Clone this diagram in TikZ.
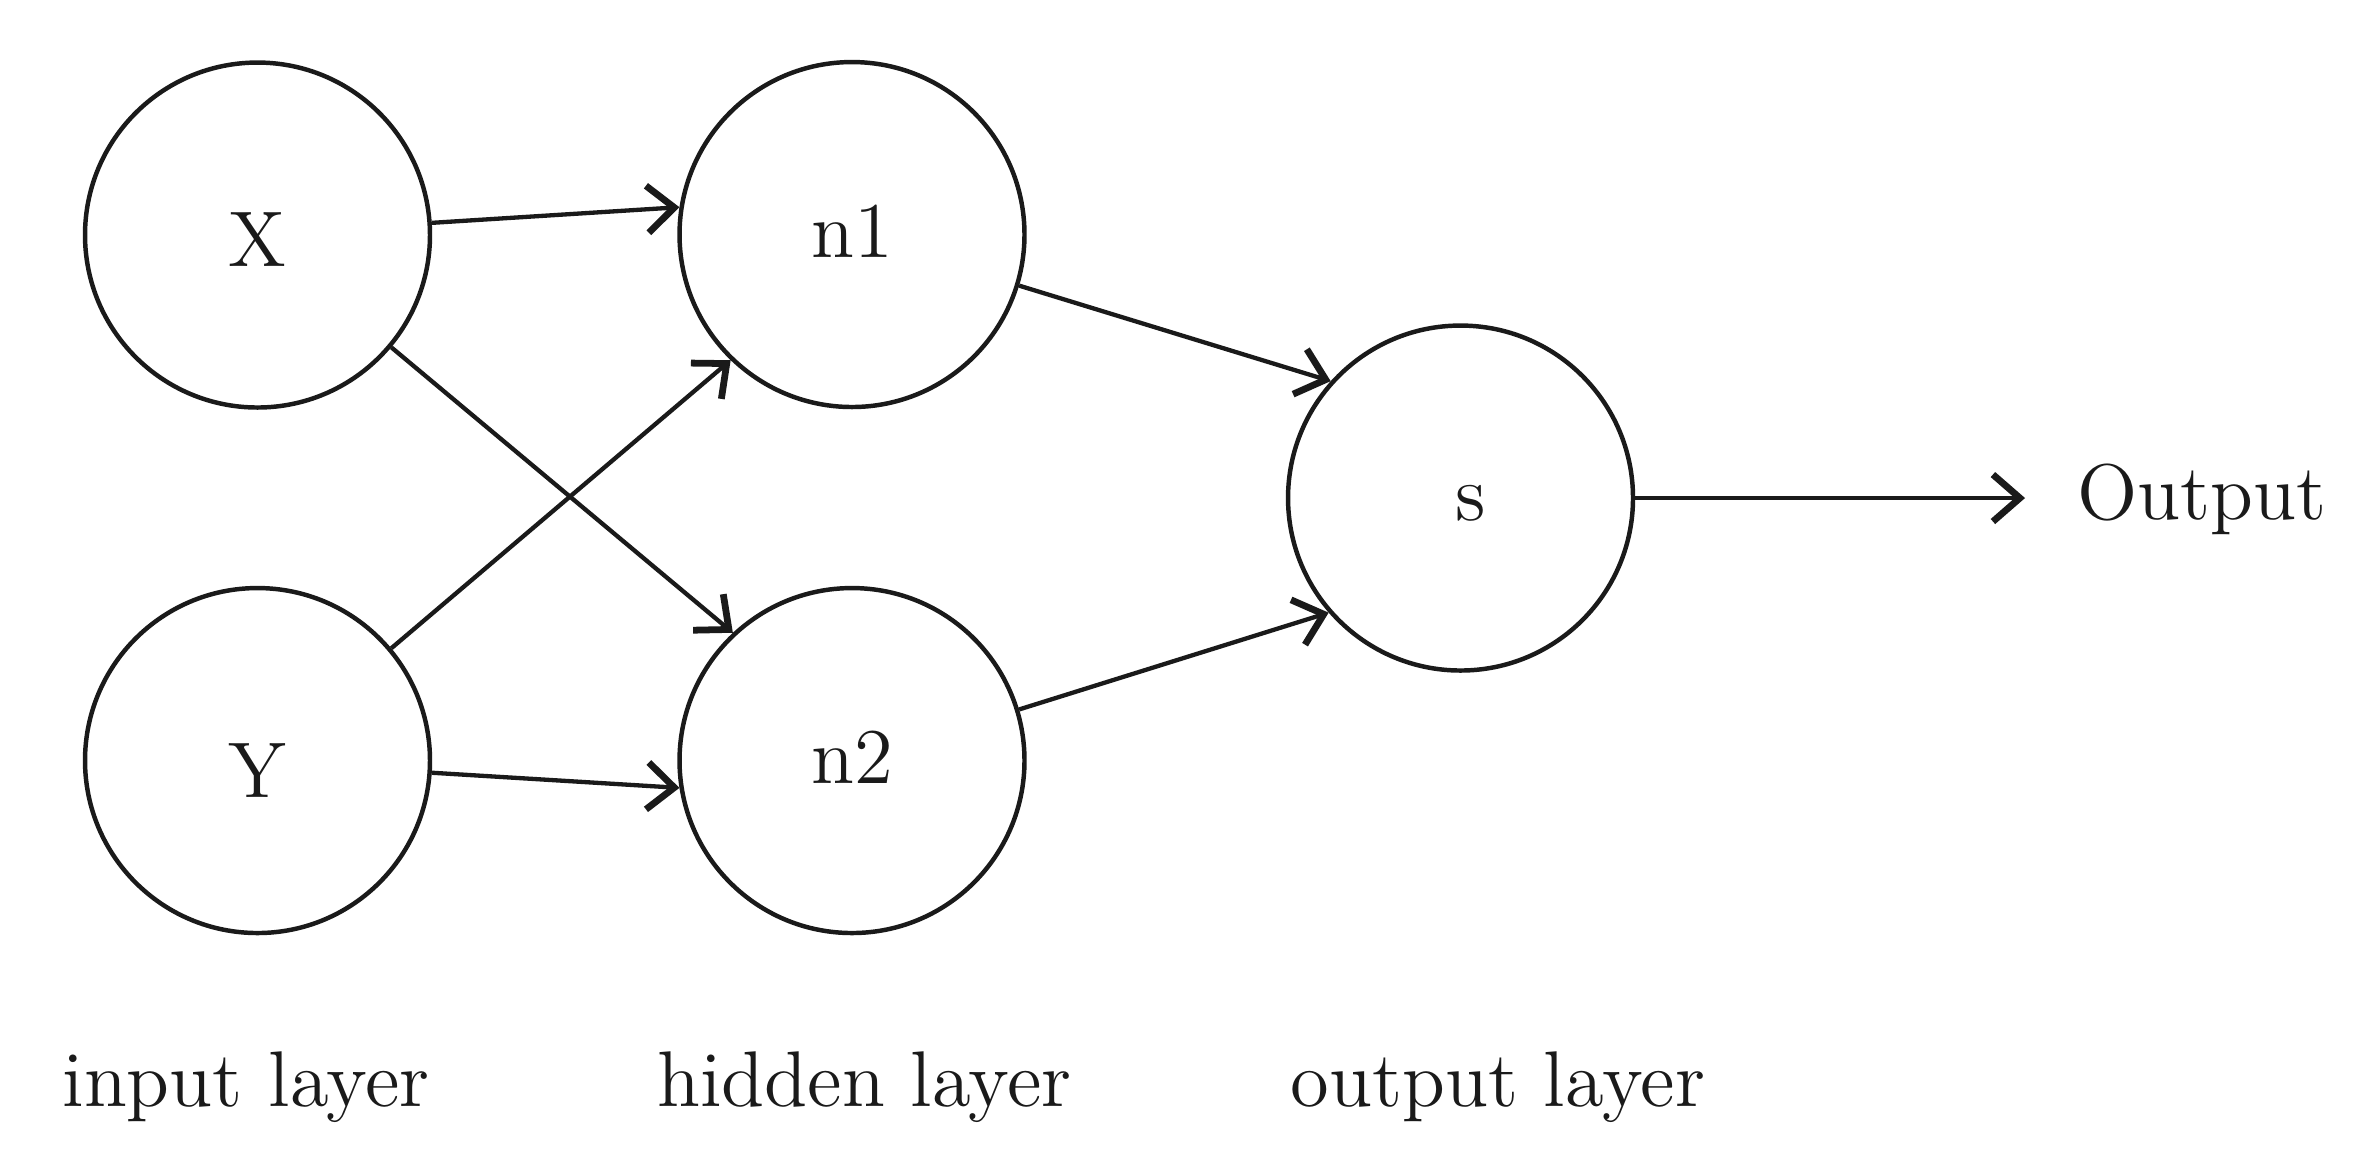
\documentclass[tikz,border=0pt]{standalone}
\usetikzlibrary{arrows.meta}
\definecolor{ink}{HTML}{1A1A1A}
\DeclareFontFamily{TU}{lmtw}{}
\DeclareFontShape{TU}{lmtw}{m}{n}{<-> "[lmroman12-regular]:+tlig;"}{}
\begin{document}
\fontfamily{lmtw}\fontsize{10.25pt}{12pt}\selectfont
\begin{tikzpicture}[x=0.12987pt,y=-0.12987pt,
  neuron/.style={circle,draw=ink,line width=0.58pt,minimum size=44.8pt,inner sep=0pt,text=ink,text depth=0pt},
  conn/.style={draw=ink,line width=0.56pt,-{Straight Barb[length=3.5pt,width=6.1pt,line width=0.88pt]}},
  lbl/.style={anchor=base west,inner sep=0pt,text=ink}]
\useasboundingbox (0,0) rectangle (2374,1172);
% nodes
\node[neuron,text height=8.05pt] (X) at (257.5,235) {X};
\node[neuron,text height=9.48pt] (Y) at (257.5,760.5) {Y};
\node[neuron,text height=5.84pt] (n1) at (852,234.5) {n1};
\node[neuron,text height=5.84pt] (n2) at (852,760.5) {n2};
\node[neuron,text height=5.71pt] (s) at (1460.5,498) {\hspace*{2.6pt}s};
\node[lbl,inner xsep=6.6pt] (out) at (2025,519) {Output};
% layer labels
\node[lbl] (lin) at (61,1106) {input layer};
\node[lbl] (lhid) at (656,1106) {hidden layer};
\node[lbl] (lout) at (1289,1106) {output layer};
% connectors
\draw[conn] (X.4) -- (n1.171);
\draw[conn] (X.-40) -- (n2.133.4);
\draw[conn] (Y.40.3) -- (n1.226.5);
\draw[conn] (Y.-4) -- (n2.189);
\draw[conn] (n1.-17.4) -- (s.138.6);
\draw[conn] (n2.17.4) -- (s.221.6);
\draw[conn] (s.east) -- (s.east -| out.west);
\end{tikzpicture}
\end{document}
